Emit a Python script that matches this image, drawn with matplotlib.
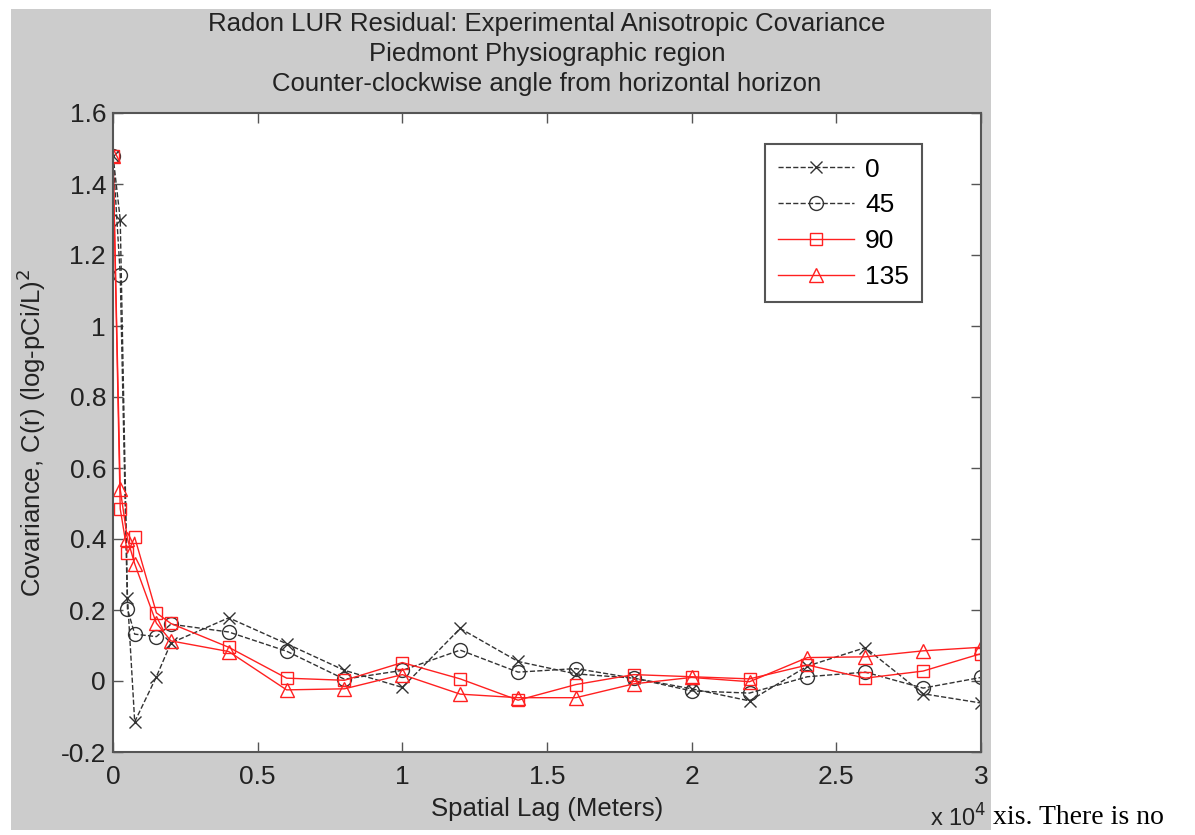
import matplotlib
matplotlib.use("Agg")
import matplotlib.pyplot as plt
from matplotlib.patches import Rectangle
from matplotlib.ticker import FuncFormatter, MultipleLocator

plt.rcParams["font.family"] = ["Liberation Sans", "DejaVu Sans"]

# lag distances (meters)
lags = [0, 250, 500, 750, 1500, 2000, 4000, 6000, 8000, 10000, 12000, 14000,
        16000, 18000, 20000, 22000, 24000, 26000, 28000, 30000]

# covariance by direction (degrees, counter-clockwise)
cov_0 = [1.48, 1.30, 0.235, -0.115, 0.012, 0.107, 0.178, 0.105, 0.03, -0.018,
         0.148, 0.055, 0.02, 0.008, -0.022, -0.056, 0.042, 0.094, -0.036, -0.062]
cov_45 = [1.48, 1.145, 0.203, 0.132, 0.125, 0.16, 0.138, 0.084, 0.005, 0.03,
          0.087, 0.025, 0.035, 0.008, -0.028, -0.034, 0.012, 0.025, -0.02, 0.01]
cov_90 = [1.48, 0.485, 0.36, 0.405, 0.192, 0.162, 0.095, 0.008, 0.002, 0.052,
          0.006, -0.054, -0.01, 0.018, 0.012, 0.006, 0.045, 0.008, 0.028, 0.077]
cov_135 = [1.48, 0.54, 0.40, 0.33, 0.163, 0.113, 0.083, -0.025, -0.022, 0.018,
           -0.037, -0.047, -0.047, -0.008, 0.01, -0.002, 0.066, 0.068, 0.085, 0.095]

fig = plt.figure(figsize=(11.95, 8.35), dpi=100)
fig.patch.set_facecolor("white")
fig.add_artist(Rectangle((11 / 1195, 5 / 835), 980 / 1195, 821 / 835,
                         transform=fig.transFigure, facecolor="#cccccc",
                         edgecolor="none", zorder=0))

ax = fig.add_axes([113 / 1195, 1 - 752 / 835, 868 / 1195, 639 / 835])
ax.set_facecolor("white")

ax.plot(lags, cov_0, "--", color="#333333", lw=1, marker="x", ms=8,
        mew=1, label="0")
ax.plot(lags, cov_45, "--", color="#333333", lw=1, marker="o", ms=10,
        mfc="none", mew=1, label="45")
ax.plot(lags, cov_90, "-", color="#ff2020", lw=1, marker="s", ms=9,
        mfc="none", mew=1, label="90")
ax.plot(lags, cov_135, "-", color="#ff2020", lw=1, marker="^", ms=10,
        mfc="none", mew=1, label="135")

ax.set_xlim(0, 30000)
ax.set_ylim(-0.2, 1.6)
ax.xaxis.set_major_locator(MultipleLocator(5000))
ax.yaxis.set_major_locator(MultipleLocator(0.2))
ax.xaxis.set_major_formatter(FuncFormatter(lambda v, p: "%g" % (v / 1e4)))
ax.yaxis.set_major_formatter(FuncFormatter(lambda v, p: "%g" % round(v, 1)))
ax.tick_params(direction="in", length=7, width=1, colors="#555555",
               labelcolor="#222222", labelsize=19, top=True, right=True, pad=5)
ax.tick_params(axis="x", pad=9)
for s in ax.spines.values():
    s.set_color("#555555")
    s.set_linewidth(1.5)

ax.set_xlabel("Spatial Lag (Meters)", fontsize=18.5, color="#222222", labelpad=6)
ax.set_ylabel("Covariance, C(r) (log-pCi/L)$^2$", fontsize=18.5, color="#222222",
              labelpad=9)
ax.set_title("Radon LUR Residual: Experimental Anisotropic Covariance\n"
             "Piedmont Physiographic region\n"
             "Counter-clockwise angle from horizontal horizon",
             fontsize=18.5, color="#222222", linespacing=1.32, pad=16)

fig.text(986 / 1195, 1 - 818 / 835, "x 10$^4$", fontsize=17, color="#222222",
         ha="right", va="center")
fig.text(993 / 1195, 1 - 818 / 835, "xis. There is no", fontsize=20,
         family="Liberation Serif", color="black", ha="left", va="center")

leg = ax.legend(loc="upper right", bbox_to_anchor=(0.932, 0.951),
                borderaxespad=0, fontsize=19, handlelength=2.9,
                handletextpad=0.4, fancybox=False, framealpha=1,
                edgecolor="#555555", labelspacing=0.45, borderpad=0.5)
leg.get_frame().set_linewidth(1.5)

fig.savefig("out.png", dpi=100, facecolor="white")
